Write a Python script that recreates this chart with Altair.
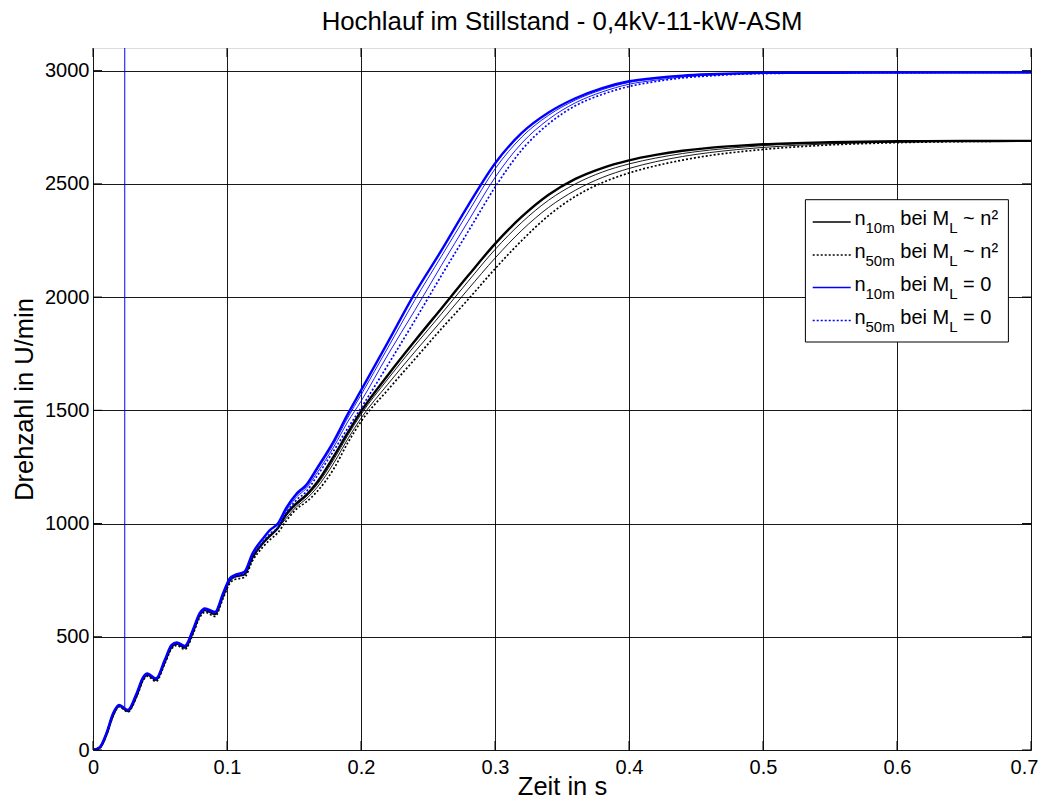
import altair as alt
import pandas as pd

FONT = "Liberation Sans"

TITLE = "Hochlauf im Stillstand - 0,4kV-11-kW-ASM"
X_TITLE = "Zeit in s"
Y_TITLE = "Drehzahl in U/min"
X_TICKS = [0, 0.1, 0.2, 0.3, 0.4, 0.5, 0.6, 0.7]
Y_TICKS = [0, 500, 1000, 1500, 2000, 2500, 3000]
X_MAX = 0.7
Y_MAX = 3100

# time grid (s)
T_EARLY = [0.0, 0.005, 0.010, 0.015, 0.0195, 0.026, 0.0325, 0.0375, 0.0405, 0.047,
           0.0535, 0.0585, 0.0625, 0.0685, 0.0745, 0.0795, 0.0835, 0.091, 0.097, 0.102,
           0.1055, 0.113, 0.119, 0.127, 0.132, 0.138]
T_LATE = [0.144, 0.152, 0.159, 0.167, 0.18, 0.19, 0.20, 0.22, 0.24, 0.26, 0.28, 0.30,
          0.32, 0.34, 0.36, 0.38, 0.40, 0.42, 0.44, 0.46, 0.48, 0.50, 0.55, 0.60, 0.65, 0.70]

# speed (U/min), M_L = 0 (blue)
BLUE_10_EARLY = [0, 12, 74, 162, 199, 177, 250, 323, 338, 316, 397, 463, 475, 460, 530, 603,
                 625, 610, 691, 758, 772, 787, 868, 935, 971, 1000]
BLUE_50_EARLY = [0, 11, 72, 160, 197, 175, 246, 319, 334, 312, 392, 458, 470, 455, 524, 596,
                 618, 603, 682, 748, 763, 778, 855, 920, 955, 982]
BLUE_10_LATE = [1067, 1133, 1170, 1243, 1368, 1482, 1588, 1800, 2015, 2206, 2405, 2590, 2725,
                2815, 2878, 2923, 2953, 2968, 2978, 2984, 2988, 2990, 2991, 2992, 2992, 2992]
BLUE_A_LATE = [1061, 1126, 1162, 1234, 1356, 1466, 1568, 1776, 1985, 2180, 2375, 2566, 2707,
               2803, 2870, 2916, 2948, 2964, 2976, 2983, 2987, 2989, 2991, 2992, 2992, 2992]
BLUE_B_LATE = [1055, 1118, 1154, 1222, 1342, 1448, 1540, 1745, 1940, 2140, 2335, 2528, 2680,
               2785, 2858, 2906, 2940, 2958, 2972, 2980, 2985, 2988, 2990, 2991, 2992, 2992]
BLUE_50_LATE = [1045, 1105, 1140, 1208, 1325, 1420, 1510, 1700, 1895, 2095, 2290, 2485, 2650,
                2765, 2845, 2895, 2930, 2952, 2968, 2977, 2984, 2987, 2990, 2991, 2992, 2992]

# speed (U/min), M_L ~ n^2 (black)
BLACK_10_EARLY = [0, 10, 68, 155, 195, 172, 240, 315, 333, 310, 388, 455, 470, 452, 520, 595,
                  618, 600, 680, 748, 765, 775, 850, 915, 945, 980]
BLACK_50_EARLY = [0, 9, 65, 150, 191, 168, 234, 308, 326, 303, 380, 446, 462, 444, 510, 584,
                  608, 590, 668, 735, 752, 762, 835, 898, 928, 960]
BLACK_10_LATE = [1040, 1090, 1125, 1180, 1300, 1400, 1495, 1655, 1805, 1950, 2095, 2235, 2355,
                 2452, 2522, 2570, 2604, 2628, 2646, 2659, 2668, 2675, 2684, 2688, 2689, 2690]
BLACK_A_LATE = [1032, 1083, 1118, 1170, 1286, 1388, 1482, 1638, 1785, 1926, 2070, 2210, 2330,
                2428, 2500, 2552, 2588, 2614, 2634, 2649, 2660, 2669, 2681, 2686, 2689, 2690]
BLACK_B_LATE = [1022, 1075, 1108, 1158, 1270, 1372, 1465, 1615, 1757, 1895, 2035, 2172, 2295,
                2396, 2472, 2528, 2568, 2598, 2621, 2638, 2651, 2661, 2677, 2684, 2688, 2690]
BLACK_50_LATE = [1010, 1065, 1095, 1140, 1245, 1355, 1450, 1590, 1725, 1860, 1990, 2125, 2250,
                 2360, 2445, 2505, 2548, 2580, 2605, 2625, 2640, 2652, 2672, 2682, 2687, 2689]

# vertical blue trace artefact
RULE_T = [0.0237]
RULE_V0 = [182]
RULE_V1 = [3100]

SERIES = [
    ("k10", "black", "main", BLACK_10_EARLY, BLACK_10_LATE),
    ("kA", "black", "mid", BLACK_10_EARLY, BLACK_A_LATE),
    ("kB", "black", "mid", BLACK_10_EARLY, BLACK_B_LATE),
    ("k50", "black", "dot", BLACK_50_EARLY, BLACK_50_LATE),
    ("b10", "blue", "main", BLUE_10_EARLY, BLUE_10_LATE),
    ("bA", "blue", "mid", BLUE_10_EARLY, BLUE_A_LATE),
    ("bB", "blue", "mid", BLUE_10_EARLY, BLUE_B_LATE),
    ("b50", "blue", "dot", BLUE_50_EARLY, BLUE_50_LATE),
]

LEGEND_SUB = ["10m", "50m", "10m", "50m"]
LEGEND_TAIL = ["~ n²", "~ n²", "= 0", "= 0"]
LEGEND_COLOR = ["#000000", "#000000", "#0000ff", "#0000ff"]
LEGEND_DOTTED = [False, True, False, True]

rows = []
for name, group, kind, early, late in SERIES:
    for i, (t, v) in enumerate(zip(T_EARLY + T_LATE, early + late)):
        rows.append({"t": t, "v": v, "series": name, "group": group, "kind": kind, "i": i})
df = pd.DataFrame(rows)

W, H = 938, 702

xscale = alt.Scale(domain=[0, X_MAX], nice=False, zero=False)
yscale = alt.Scale(domain=[0, Y_MAX], nice=False, zero=False)

common_axis = dict(grid=True, gridColor="#000000", gridOpacity=0.9, gridWidth=1,
                   domain=False, ticks=False, tickSize=0, labelFont=FONT, labelFontSize=20,
                   labelColor="#000000", titleFont=FONT, titleFontSize=25.5,
                   titleFontWeight="normal", titleColor="#000000", labelOverlap=False,
                   labelFlush=False)

xaxis = alt.Axis(values=X_TICKS, format="~g", title=X_TITLE, labelPadding=7,
                 labelOffset={"condition": {"test": "datum.value >= 0.69", "value": -7},
                              "value": 0},
                 titleBaseline="alphabetic", titleAlign="center", titleX=W / 2, titleY=44,
                 **common_axis)
yaxis = alt.Axis(values=Y_TICKS, format="d", title=Y_TITLE, labelPadding=4,
                 titleAngle=270, titleBaseline="alphabetic", titleAlign="center",
                 titleX=-61, titleY=H / 2, **common_axis)

X = alt.X("t:Q", scale=xscale, axis=xaxis)
Y = alt.Y("v:Q", scale=yscale, axis=yaxis)


def line_layer(group, kind, color, width, dash=None):
    mk = dict(interpolate="monotone", color=color, strokeWidth=width, clip=True)
    if dash:
        mk["strokeDash"] = dash
    return (alt.Chart(df)
            .transform_filter(f"datum.group == '{group}' && datum.kind == '{kind}'")
            .mark_line(**mk)
            .encode(x=X, y=Y, detail="series:N", order="i:Q"))


layers = [
    line_layer("black", "mid", "#000000", 0.9),
    line_layer("black", "main", "#000000", 2.4),
    line_layer("black", "dot", "#000000", 1.7, [2, 2]),
    line_layer("blue", "mid", "#0000ff", 0.9),
    line_layer("blue", "main", "#0000ff", 2.4),
    line_layer("blue", "dot", "#0000ff", 1.7, [2, 2]),
]

rule_df = pd.DataFrame({"t": RULE_T, "v": RULE_V0, "v2": RULE_V1})
layers.append(alt.Chart(rule_df).mark_rule(color="#0000ff", strokeWidth=1, clip=True)
              .encode(x=X, y=Y, y2="v2:Q"))

# inward ticks on all four sides
ytick_df = pd.DataFrame({"v": Y_TICKS})
xtick_df = pd.DataFrame({"t": X_TICKS})
layers.append(alt.Chart(ytick_df).mark_rule(color="#000000", strokeWidth=1)
              .encode(y=Y, x=alt.value(0), x2=alt.value(9)))
layers.append(alt.Chart(ytick_df).mark_rule(color="#000000", strokeWidth=1)
              .encode(y=Y, x=alt.value(W - 9), x2=alt.value(W)))
layers.append(alt.Chart(xtick_df).mark_rule(color="#000000", strokeWidth=1)
              .encode(x=X, y=alt.value(H - 9), y2=alt.value(H)))
layers.append(alt.Chart(xtick_df).mark_rule(color="#000000", strokeWidth=1)
              .encode(x=X, y=alt.value(0), y2=alt.value(9)))

dummy = pd.DataFrame({"k": [0]})

# chart title
layers.append(alt.Chart(dummy)
              .mark_text(font=FONT, fontSize=25.8, align="center", baseline="alphabetic",
                         color="#000000")
              .encode(x=alt.value(W / 2), y=alt.value(-18), text=alt.value(TITLE)))

# legend box
layers.append(alt.Chart(dummy).mark_rect(fill="white", stroke="black", strokeWidth=1)
              .encode(x=alt.value(712.4), x2=alt.value(915.4),
                      y=alt.value(151.7), y2=alt.value(294)))
row_y = [174, 207, 239.5, 272.5]
for i in range(4):
    ly = row_y[i]
    mk = dict(color=LEGEND_COLOR[i], strokeWidth=1.5)
    if LEGEND_DOTTED[i]:
        mk["strokeDash"] = [2, 2]
    layers.append(alt.Chart(dummy).mark_rule(**mk)
                  .encode(x=alt.value(719.7), x2=alt.value(757.7), y=alt.value(ly)))
    pieces = [
        ("n", 761.4, ly + 3, 20),
        (LEGEND_SUB[i], 772.5, ly + 11, 15),
        ("bei M", 807.3, ly + 3, 20),
        ("L", 856.2, ly + 11, 15),
        (LEGEND_TAIL[i], 870.1, ly + 3, 20),
    ]
    for txt, px, py, fs in pieces:
        layers.append(alt.Chart(dummy)
                      .mark_text(font=FONT, fontSize=fs, align="left",
                                 baseline="alphabetic", color="#000000")
                      .encode(x=alt.value(px), y=alt.value(py), text=alt.value(txt)))

chart = (alt.layer(*layers)
         .properties(width=W, height=H,
                     autosize=alt.AutoSizeParams(type="none"),
                     padding={"left": 85, "top": 40, "right": 8, "bottom": 48})
         .configure_view(stroke="#000000", strokeWidth=1.5)
         .configure(background="white"))

chart.save("out.html", embed_options={"renderer": "svg", "actions": False})
